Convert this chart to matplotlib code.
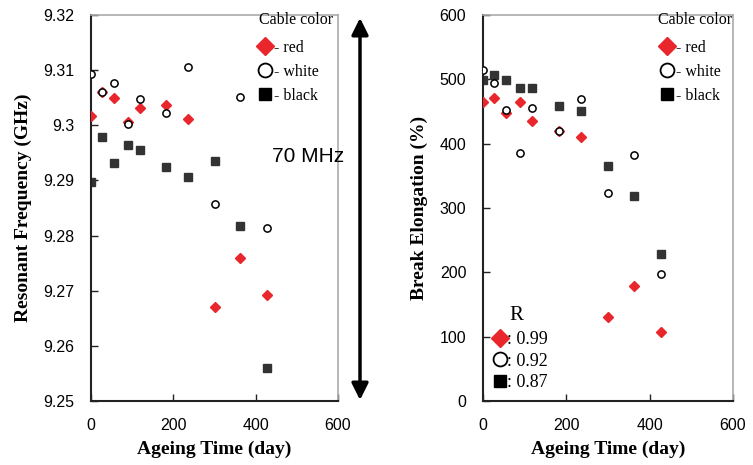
import matplotlib
matplotlib.use("Agg")
import matplotlib.pyplot as plt
from matplotlib.lines import Line2D

# ---- data ----
days = [0, 27, 55, 89, 118, 182, 236, 300, 363, 427]
freq_red = [9.3017, 9.3061, 9.3050, 9.3006, 9.3031, 9.3037, 9.3012, 9.2670, 9.2759, 9.2692]
freq_white = [9.3093, 9.3061, 9.3076, 9.3003, 9.3047, 9.3023, 9.3105, 9.2858, 9.3051, 9.2814]
freq_black = [9.2897, 9.2978, 9.2931, 9.2965, 9.2956, 9.2925, 9.2907, 9.2935, 9.2818, 9.2559]

elong_red = [465, 471, 448, 465, 435, 419, 411, 131, 179, 107]
elong_white = [515, 495, 452, 385, 455, 420, 470, 324, 382, 198]
elong_black = [499, 506, 499, 486, 486, 459, 450, 366, 319, 229]

freq_ticks = [9.25, 9.26, 9.27, 9.28, 9.29, 9.30, 9.31, 9.32]
freq_ticklabels = ["9.25", "9.26", "9.27", "9.28", "9.29", "9.3", "9.31", "9.32"]
elong_ticks = [0, 100, 200, 300, 400, 500, 600]
x_ticks = [0, 200, 400, 600]
r_values = ["0.99", "0.92", "0.87"]
series_names = ["red", "white", "black"]

RED = "#e8262b"
BLK = "#333333"
SANS = "Liberation Sans"
SERIF = "Liberation Serif"

fig = plt.figure(figsize=(7.53, 4.65), dpi=100)
W, H = 753, 465
axL = fig.add_axes([91 / W, 1 - 401 / H, (338 - 91) / W, (401 - 15) / H])
axR = fig.add_axes([483 / W, 1 - 401 / H, (733 - 483) / W, (401 - 15) / H])


def style(ax):
    for s in ["left", "bottom"]:
        ax.spines[s].set_color("#222222")
        ax.spines[s].set_linewidth(1.5)
    for s in ["top", "right"]:
        ax.spines[s].set_color("#aaaaaa")
        ax.spines[s].set_linewidth(1.2)
    ax.tick_params(direction="in", length=5, width=1, colors="#222222",
                   labelsize=11.5, pad=12)
    ax.set_xlim(0, 600)
    ax.set_xticks(x_ticks)
    for lab in ax.get_xticklabels() + ax.get_yticklabels():
        lab.set_fontfamily(SANS)
        lab.set_color("black")
    ax.set_xlabel("Ageing Time (day)", fontfamily=SERIF, fontweight="bold",
                  fontsize=14, labelpad=6)


def plot_series(ax, r, w, b):
    ax.plot(days, r, ls="none", marker="D", ms=5.5, color=RED, mec=RED, zorder=3)
    ax.plot(days, w, ls="none", marker="o", ms=5.2, mfc="white", mec="black", mew=1.1, zorder=3)
    ax.plot(days, b, ls="none", marker="s", ms=6, color=BLK, mec=BLK, zorder=2)


plot_series(axL, freq_red, freq_white, freq_black)
axL.set_ylim(9.25, 9.32)
axL.set_yticks(freq_ticks)
axL.set_yticklabels(freq_ticklabels)
style(axL)
axL.set_ylabel("Resonant Frequency (GHz)", fontfamily=SERIF, fontweight="bold",
               fontsize=14, labelpad=8)

plot_series(axR, elong_red, elong_white, elong_black)
axR.set_ylim(0, 600)
axR.set_yticks(elong_ticks)
style(axR)
axR.set_ylabel("Break Elongation (%)", fontfamily=SERIF, fontweight="bold",
               fontsize=14, labelpad=8)

handles = [
    Line2D([], [], ls="none", marker="D", ms=9, color=RED, mec=RED),
    Line2D([], [], ls="none", marker="o", ms=10, mfc="white", mec="black", mew=1.3),
    Line2D([], [], ls="none", marker="s", ms=9, color="black"),
]

for ax, xa in ((axL, 0.955), (axR, 0.984)):
    ax.legend(handles, ["- " + n for n in series_names],
              loc="upper right", bbox_to_anchor=(xa, 0.957), frameon=False,
              handlelength=0.8, handletextpad=0.2, labelspacing=0.5,
              borderaxespad=0.1, prop={"family": SERIF, "size": 11.5})

fig.text(259 / W, 1 - 20 / H, "Cable color", fontfamily=SERIF, fontsize=11.5,
         ha="left", va="center")
fig.text(658 / W, 1 - 20 / H, "Cable color", fontfamily=SERIF, fontsize=11.5,
         ha="left", va="center")

legR = axR.get_legend()
axR.add_artist(legR)
leg2 = axR.legend(handles, [": " + v for v in r_values],
                  loc="lower left", bbox_to_anchor=(0.0, 0.0), frameon=False,
                  handlelength=0.8, handletextpad=0.0, labelspacing=0.25,
                  borderaxespad=0.15, prop={"family": SERIF, "size": 13})
fig.text(516 / W, 1 - 316 / H, "R", fontfamily=SERIF, fontsize=15,
         ha="center", va="center")

fig.text(308 / W, 1 - 157 / H, "70 MHz", fontfamily=SANS, fontsize=15,
         ha="center", va="center")
fig.add_artist(matplotlib.patches.FancyArrowPatch(
    (360 / W, 1 - 18 / H), (360 / W, 1 - 400 / H), transform=fig.transFigure,
    arrowstyle="<|-|>,head_length=4,head_width=2", color="black", lw=2.5,
    mutation_scale=2.5, shrinkA=0, shrinkB=0))

fig.savefig("out.png", dpi=100)
